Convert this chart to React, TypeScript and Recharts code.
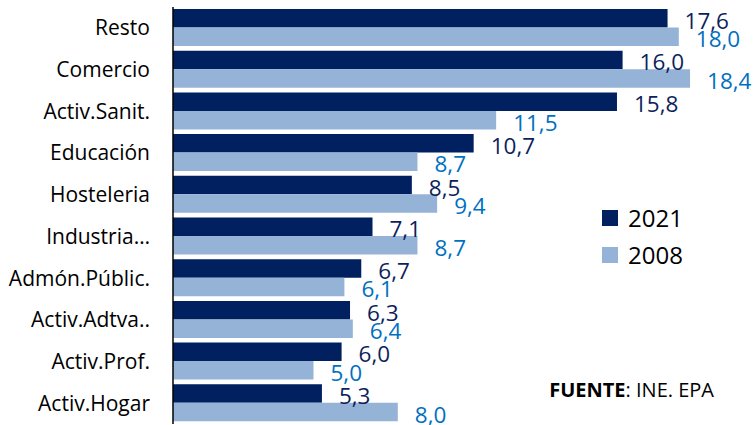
import React from 'react';
import { BarChart, Bar, XAxis, YAxis, LabelList, Legend, Customized } from 'recharts';

const categories = ['Resto', 'Comercio', 'Activ.Sanit.', 'Educación', 'Hosteleria', 'Industria…', 'Admón.Públic.', 'Activ.Adtva..', 'Activ.Prof.', 'Activ.Hogar'];
const values2021 = [17.6, 16.0, 15.8, 10.7, 8.5, 7.1, 6.7, 6.3, 6.0, 5.3];
const values2008 = [18.0, 18.4, 11.5, 8.7, 9.4, 8.7, 6.1, 6.4, 5.0, 8.0];
const seriesNames = ['2021', '2008'];
const sourceBold = 'FUENTE';
const sourceRest = ': INE. EPA';

const data = categories.map((name, i) => ({ name, v2021: values2021[i], v2008: values2008[i] }));

const DARK = '#002060';
const LIGHT = '#95b3d7';
const FONT = '"Open Sans", Lato, sans-serif';

const fmt = (v: number) => v.toFixed(1).replace('.', ',');

const makeLabel = (color: string) => (props: any) => {
  const { x, y, width, height, value } = props;
  return (
    <text
      x={x + width + 17}
      y={y + height / 2 + 2}
      fill={color}
      fontSize={22.5}
      fontFamily={FONT}
      dominantBaseline="central"
    >
      {fmt(value)}
    </text>
  );
};

const LegendContent = () => (
  <div style={{ fontFamily: FONT }}>
    {seriesNames.map((n, i) => (
      <div key={n} style={{ display: 'flex', alignItems: 'center', height: 37 }}>
        <div style={{ width: 16, height: 16, background: i === 0 ? DARK : LIGHT, marginRight: 10 }} />
        <span style={{ fontSize: 24, color: '#000', lineHeight: '24px' }}>{n}</span>
      </div>
    ))}
  </div>
);

const Source = () => (
  <text x={714} y={397} textAnchor="end" fontFamily={FONT} fontSize={20} fill="#000">
    <tspan fontWeight="bold">{sourceBold}</tspan>
    <tspan>{sourceRest}</tspan>
  </text>
);

export default function App() {
  return (
    <div style={{ position: 'absolute', left: 0, top: 0, background: '#fff' }}>
      <BarChart
        width={753}
        height={425}
        data={data}
        layout="vertical"
        margin={{ top: 7, right: 18, bottom: 1, left: 0 }}
        barGap={0}
      >
        <XAxis type="number" domain={[0, 20]} hide />
        <YAxis
          type="category"
          dataKey="name"
          width={173}
          tickLine={false}
          tickMargin={17}
          axisLine={{ stroke: '#000', strokeWidth: 1.5 }}
          tick={{ fontSize: 21, fill: '#000', fontFamily: FONT }}
          interval={0}
        />
        <Bar dataKey="v2021" name="2021" fill={DARK} barSize={18.5} isAnimationActive={false}>
          <LabelList dataKey="v2021" content={makeLabel('#0d1f5c')} />
        </Bar>
        <Bar dataKey="v2008" name="2008" fill={LIGHT} barSize={18.5} isAnimationActive={false}>
          <LabelList dataKey="v2008" content={makeLabel('#0070c0')} />
        </Bar>
        <Legend
          layout="vertical"
          align="center"
          verticalAlign="middle"
          content={<LegendContent />}
          wrapperStyle={{ left: 602, top: 199, width: 120 }}
        />
        <Customized component={Source} />
      </BarChart>
    </div>
  );
}
